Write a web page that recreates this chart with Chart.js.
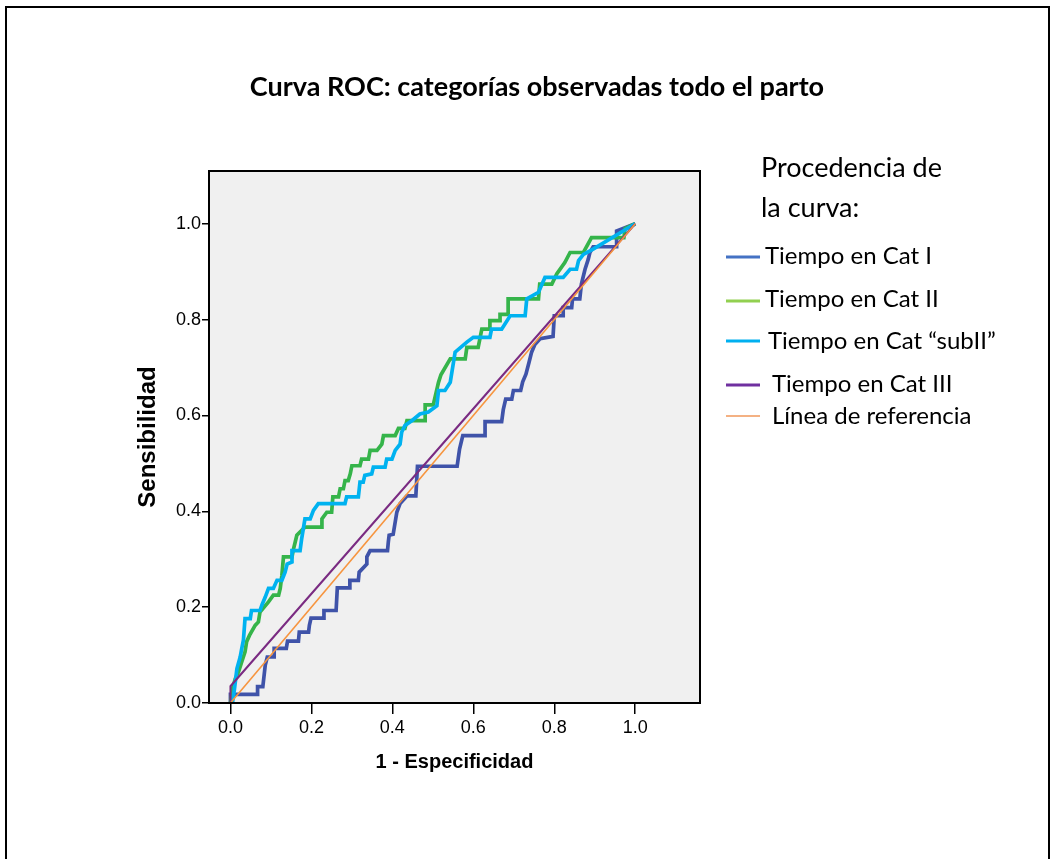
<!DOCTYPE html>
<html>
<head>
<meta charset="utf-8">
<title>Curva ROC</title>
<script src="https://cdn.jsdelivr.net/npm/chart.js@4.4.1/dist/chart.umd.min.js"></script>
<style>
    body { margin: 0; background: #fff; }
    #frame { position: absolute; left: 5px; top: 6px; width: 1045px; height: 900px; border: 2px solid #000; box-sizing: border-box; }
    #roc { position: absolute; left: 0; top: 0; }
</style>
</head>
<body>
<div id="frame"></div>
<canvas id="roc" width="1051" height="859"></canvas>
<script>
var chartTitle = 'Curva ROC: categorías observadas todo el parto';
var xTitle = '1 - Especificidad';
var yTitle = 'Sensibilidad';
var legendTitle = ['Procedencia de', 'la curva:'];
var seriesNames = ['Tiempo en Cat I', 'Tiempo en Cat II', 'Tiempo en Cat \u201csubII\u201d', 'Tiempo en Cat III', 'Línea de referencia'];
var tickValues = [0, 0.2, 0.4, 0.6, 0.8, 1.0];

// Tiempo en Cat I
var catI_x = [0, 0, 0.067, 0.067, 0.080, 0.086, 0.091, 0.108, 0.108, 0.138, 0.141, 0.168, 0.170, 0.193, 0.195, 0.199, 0.231, 0.231, 0.261, 0.264, 0.295, 0.295, 0.316, 0.318, 0.337, 0.337, 0.345, 0.388, 0.390, 0.392, 0.402, 0.411, 0.419, 0.436, 0.458, 0.462, 0.560, 0.566, 0.574, 0.629, 0.629, 0.670, 0.674, 0.680, 0.695, 0.699, 0.717, 0.722, 0.730, 0.738, 0.744, 0.752, 0.765, 0.797, 0.800, 0.822, 0.822, 0.843, 0.845, 0.863, 0.867, 0.876, 0.884, 0.888, 0.896, 0.954, 0.954, 1];
var catI_y = [0, 0.018, 0.018, 0.034, 0.034, 0.079, 0.096, 0.096, 0.114, 0.114, 0.129, 0.129, 0.148, 0.148, 0.162, 0.177, 0.177, 0.193, 0.193, 0.240, 0.240, 0.256, 0.256, 0.273, 0.290, 0.305, 0.318, 0.318, 0.336, 0.350, 0.352, 0.398, 0.416, 0.432, 0.432, 0.494, 0.494, 0.530, 0.558, 0.558, 0.587, 0.587, 0.612, 0.634, 0.634, 0.652, 0.652, 0.670, 0.686, 0.712, 0.732, 0.748, 0.760, 0.765, 0.808, 0.808, 0.825, 0.825, 0.843, 0.843, 0.874, 0.905, 0.926, 0.940, 0.952, 0.952, 0.985, 1];

// Tiempo en Cat II
var catII_x = [0, 0.005, 0.012, 0.020, 0.028, 0.036, 0.040, 0.047, 0.061, 0.069, 0.073, 0.094, 0.106, 0.119, 0.123, 0.127, 0.131, 0.152, 0.156, 0.160, 0.164, 0.184, 0.226, 0.226, 0.238, 0.250, 0.253, 0.267, 0.271, 0.279, 0.283, 0.291, 0.296, 0.300, 0.320, 0.324, 0.341, 0.345, 0.362, 0.374, 0.378, 0.407, 0.415, 0.431, 0.436, 0.481, 0.481, 0.501, 0.514, 0.520, 0.543, 0.580, 0.584, 0.612, 0.621, 0.641, 0.641, 0.666, 0.666, 0.686, 0.686, 0.761, 0.764, 0.794, 0.806, 0.826, 0.839, 0.872, 0.892, 0.972, 0.975, 1];
var catII_y = [0, 0.030, 0.051, 0.065, 0.086, 0.107, 0.128, 0.141, 0.162, 0.169, 0.190, 0.211, 0.225, 0.225, 0.239, 0.266, 0.305, 0.305, 0.322, 0.336, 0.350, 0.367, 0.367, 0.384, 0.398, 0.398, 0.430, 0.430, 0.447, 0.447, 0.464, 0.464, 0.478, 0.495, 0.495, 0.509, 0.509, 0.527, 0.527, 0.540, 0.558, 0.558, 0.573, 0.573, 0.589, 0.589, 0.622, 0.622, 0.669, 0.685, 0.718, 0.718, 0.742, 0.742, 0.780, 0.780, 0.798, 0.798, 0.811, 0.811, 0.843, 0.843, 0.874, 0.874, 0.895, 0.919, 0.940, 0.940, 0.971, 0.971, 0.990, 1];

// Tiempo en Cat "subII"
var subII_x = [0.005, 0.010, 0.016, 0.024, 0.028, 0.032, 0.036, 0.049, 0.052, 0.073, 0.078, 0.086, 0.094, 0.106, 0.115, 0.127, 0.135, 0.140, 0.152, 0.152, 0.172, 0.176, 0.184, 0.197, 0.205, 0.217, 0.283, 0.287, 0.316, 0.320, 0.328, 0.332, 0.349, 0.353, 0.382, 0.386, 0.399, 0.407, 0.419, 0.423, 0.431, 0.448, 0.468, 0.489, 0.510, 0.514, 0.530, 0.543, 0.555, 0.584, 0.600, 0.641, 0.645, 0.670, 0.691, 0.728, 0.732, 0.761, 0.777, 0.822, 0.839, 0.855, 0.860, 0.872, 0.896, 1];
var subII_y = [0, 0.030, 0.072, 0.096, 0.114, 0.131, 0.176, 0.176, 0.193, 0.193, 0.205, 0.221, 0.239, 0.239, 0.256, 0.256, 0.273, 0.290, 0.294, 0.318, 0.318, 0.343, 0.384, 0.384, 0.402, 0.416, 0.416, 0.430, 0.430, 0.461, 0.461, 0.475, 0.478, 0.492, 0.492, 0.509, 0.509, 0.527, 0.540, 0.565, 0.579, 0.589, 0.603, 0.607, 0.620, 0.652, 0.652, 0.669, 0.732, 0.753, 0.763, 0.763, 0.780, 0.780, 0.808, 0.808, 0.843, 0.857, 0.888, 0.888, 0.905, 0.905, 0.923, 0.936, 0.947, 1];

// Tiempo en Cat III
var catIII_x = [0, 0, 1];
var catIII_y = [0, 0.035, 1];

// Línea de referencia
var ref_x = [0, 1];
var ref_y = [0, 1];

var lineColors = ['#3F53A9', '#35B44A', '#00B2F0', '#7A2B82', '#F7953F'];
var legendColors = ['#4472C4', '#92D050', '#00B0F0', '#7030A0', '#F4B183'];

function toPoints(xs, ys) {
    var pts = [];
    for (var i = 0; i < xs.length; i++) {
        pts.push({ x: xs[i], y: ys[i] });
    }
    return pts;
}

function makeSet(i, xs, ys, width, order) {
    return {
        label: seriesNames[i],
        data: toPoints(xs, ys),
        borderColor: lineColors[i],
        borderWidth: width,
        pointRadius: 0,
        fill: false,
        tension: 0,
        order: order
    };
}

// grey plot panel with a black frame
var plotPanel = {
    id: 'plotPanel',
    beforeDraw: function (chart) {
        var a = chart.chartArea, ctx = chart.ctx;
        ctx.save();
        ctx.fillStyle = '#F0F0F0';
        ctx.fillRect(a.left, a.top, a.right - a.left, a.bottom - a.top);
        ctx.restore();
    },
    afterDatasetsDraw: function (chart) {
        var a = chart.chartArea, ctx = chart.ctx;
        ctx.save();
        ctx.strokeStyle = '#000';
        ctx.lineWidth = 2;
        ctx.strokeRect(a.left, a.top, a.right - a.left, a.bottom - a.top);
        ctx.restore();
    }
};

// legend block to the right of the plot
var sideLegend = {
    id: 'sideLegend',
    afterDraw: function (chart) {
        var ctx = chart.ctx;
        var rowLine = [257, 301, 341, 385, 416];
        var rowText = [264, 307, 349, 392, 424];
        var textX = [765, 765, 768, 772, 772];
        ctx.save();
        ctx.fillStyle = '#000';
        ctx.textBaseline = 'alphabetic';
        ctx.textAlign = 'left';
        ctx.font = '27px Lato';
        ctx.fillText(legendTitle[0], 761, 177);
        ctx.fillText(legendTitle[1], 761, 217);
        ctx.font = '24px Lato';
        chart.data.datasets.forEach(function (ds, i) {
            ctx.strokeStyle = legendColors[i];
            ctx.lineWidth = i === 4 ? 2 : 3;
            ctx.beginPath();
            ctx.moveTo(726, rowLine[i]);
            ctx.lineTo(760, rowLine[i]);
            ctx.stroke();
            ctx.fillText(ds.label, textX[i], rowText[i]);
        });
        ctx.restore();
    }
};

var tickFont = { family: 'Liberation Sans', size: 18 };

var ctx = document.getElementById('roc');
var rocChart = new Chart(ctx, {
    type: 'line',
    data: {
        datasets: [
            makeSet(0, catI_x, catI_y, 3.7, 4),
            makeSet(1, catII_x, catII_y, 3.7, 3),
            makeSet(2, subII_x, subII_y, 3.7, 2),
            makeSet(3, catIII_x, catIII_y, 2, 1),
            makeSet(4, ref_x, ref_y, 1.6, 0)
        ]
    },
    options: {
        responsive: false,
        animation: false,
        layout: { padding: { left: 23, right: 0, top: 0, bottom: 0 } },
        plugins: {
            legend: { display: false },
            tooltip: { enabled: false },
            title: {
                display: true,
                text: chartTitle,
                color: '#000',
                font: { family: 'Lato', size: 27, weight: 'bold' },
                padding: { top: 70.8, bottom: 67.8 }
            }
        },
        scales: {
            x: {
                type: 'linear',
                min: -0.053,
                max: 1.16,
                afterFit: function (s) { s.height = 156; },
                afterBuildTicks: function (s) { s.ticks = tickValues.map(function (v) { return { value: v }; }); },
                ticks: {
                    color: '#000',
                    font: tickFont,
                    padding: 3,
                    maxRotation: 0,
                    callback: function (v) { return v.toFixed(1); }
                },
                grid: { drawOnChartArea: false, drawTicks: true, tickLength: 11, color: '#000', lineWidth: 1.5 },
                border: { display: true, color: '#000', width: 2 },
                title: {
                    display: true,
                    text: xTitle,
                    color: '#000',
                    font: { family: 'Liberation Sans', size: 20, weight: 'bold' },
                    padding: { top: 0, bottom: 85 }
                }
            },
            y: {
                type: 'linear',
                min: 0,
                max: 1.11,
                afterFit: function (s) { s.width = 186; },
                afterBuildTicks: function (s) { s.ticks = tickValues.map(function (v) { return { value: v }; }); },
                ticks: {
                    color: '#000',
                    font: tickFont,
                    padding: 1,
                    callback: function (v) { return v.toFixed(1); }
                },
                grid: { drawOnChartArea: false, drawTicks: true, tickLength: 7, color: '#000', lineWidth: 1.5 },
                border: { display: true, color: '#000', width: 2 },
                title: {
                    display: true,
                    text: yTitle,
                    color: '#000',
                    font: { family: 'Liberation Sans', size: 24, weight: 'bold' },
                    padding: { top: 110.6, bottom: 0 }
                }
            },
            // keeps room for the legend on the right
            yRight: {
                type: 'linear',
                position: 'right',
                afterFit: function (s) { s.width = 351; },
                ticks: { display: false },
                grid: { display: false },
                border: { display: false }
            }
        }
    },
    plugins: [plotPanel, sideLegend]
});
</script>
</body>
</html>
